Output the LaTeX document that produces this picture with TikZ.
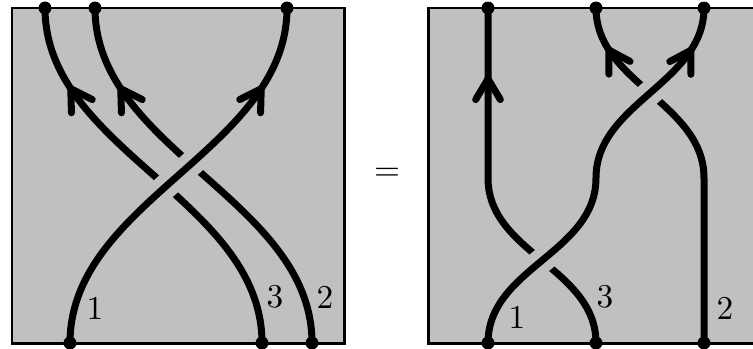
\documentclass[tikz,border=0pt]{standalone}
\usepackage{tikz}
\usetikzlibrary{arrows.meta,decorations.markings}
\definecolor{BoxGray}{HTML}{C0C0C0}

\begin{document}
\begin{tikzpicture}[x=0.3pt,y=-0.3pt,
  strand/.style={line width=2.1pt},
  crossover/.style={preaction={draw,BoxGray,line width=7.5pt}},
  arrowat/.style={postaction={decorate},decoration={markings,
    mark=at position #1 with {\arrow{Straight Barb[length=6.2pt,width=7.4pt,round]}}}},
  frame/.style={draw=black,line width=0.9pt},
  dot/.style={circle,fill=black,inner sep=0pt,minimum size=3.9pt}]
  \clip (0,0) rectangle (753,349);

  % left braid
  \fill[BoxGray] (12,8) rectangle (344,343);
  \foreach \n/\x in {lt1/45,lt2/95,lt3/287} \coordinate (\n) at (\x,8);
  \foreach \n/\x in {lb1/70,lb2/262,lb3/312} \coordinate (\n) at (\x,343);
  \draw[strand,arrowat=0.8] (lb2) .. controls (262,200) and (45,150) .. (lt1);
  \draw[strand,arrowat=0.8] (lb3) .. controls (312,200) and (95,150) .. (lt2);
  \draw[strand,crossover,arrowat=0.8] (lb1) .. controls (70,200) and (287,150) .. (lt3);
  \draw[frame] (12,8) rectangle (344,343);
  \node (l1) at (95,308) {1};
  \node (l3) at (275,297) {3};
  \node (l2) at (325,297) {2};

  \node (eq) at (387,174) {$=$};

  % right braid
  \fill[BoxGray] (428,8) rectangle (760,343);
  \foreach \n/\x in {rt1/488,rt2/596,rt3/704} \coordinate (\n) at (\x,8);
  \foreach \n/\x in {rb1/488,rb2/596,rb3/704} \coordinate (\n) at (\x,343);
  \coordinate (m1) at (596,178);
  \coordinate (m2) at (704,178);
  \coordinate (m3) at (488,178);
  \draw[strand,arrowat=0.82] (rb2) .. controls (596,268) and (488,253) .. (m3) -- (rt1);
  \draw[strand,arrowat=0.89] (rb3) -- (m2) .. controls (704,103) and (596,83) .. (rt2);
  \draw[strand,crossover,arrowat=0.9] (rb1) .. controls (488,268) and (596,253) .. (m1)
    .. controls (596,103) and (704,83) .. (rt3);
  \draw[frame] (428,8) rectangle (760,343);
  \node (r1) at (517,317) {1};
  \node (r3) at (605,297) {3};
  \node (r2) at (725,308) {2};

  \foreach \p in {lt1,lt2,lt3,lb1,lb2,lb3,rt1,rt2,rt3,rb1,rb2,rb3}
    \node[dot] (d\p) at (\p) {};
\end{tikzpicture}
\end{document}
